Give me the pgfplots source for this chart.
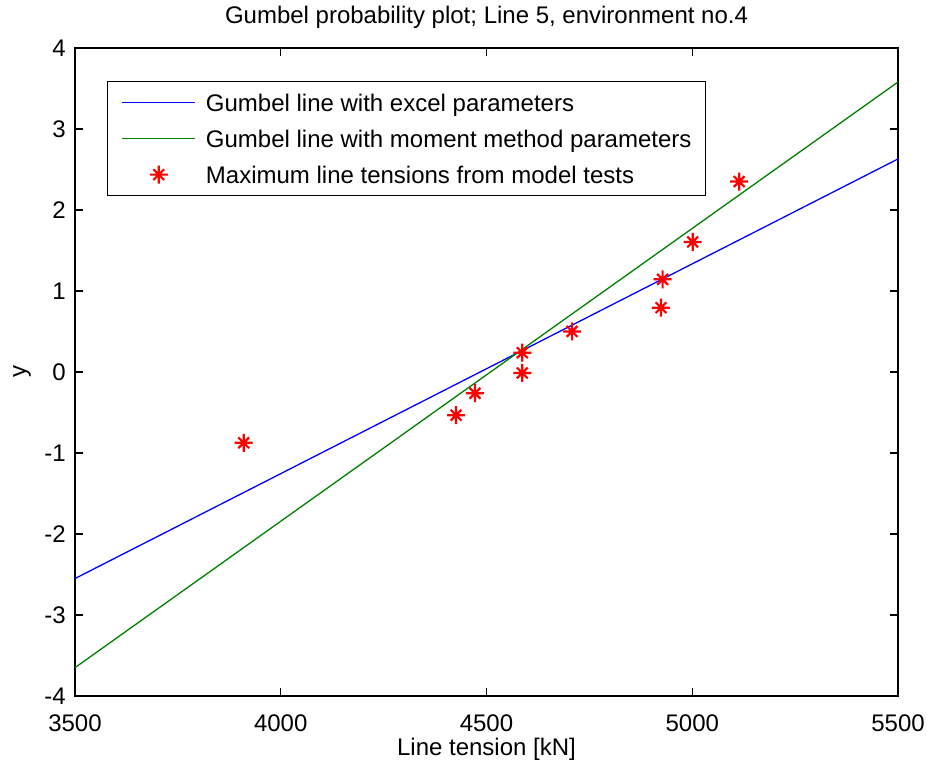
\documentclass[border=0pt]{standalone}
\usepackage{fontspec}
\setmainfont{Liberation Sans}
\usepackage{pgfplots}
\pgfplotsset{compat=1.18}
\newcommand{\F}{\fontsize{24}{28}\selectfont}
\definecolor{mgreen}{RGB}{0,128,0}
\definecolor{mblue}{RGB}{0,0,255}
\definecolor{mred}{RGB}{255,0,0}
\pgfdeclareplotmark{matstar}{%
  \pgfpathmoveto{\pgfpoint{-\pgfplotmarksize}{0pt}}\pgfpathlineto{\pgfpoint{\pgfplotmarksize}{0pt}}%
  \pgfpathmoveto{\pgfpoint{0pt}{-\pgfplotmarksize}}\pgfpathlineto{\pgfpoint{0pt}{\pgfplotmarksize}}%
  \pgfpathmoveto{\pgfpoint{-0.6\pgfplotmarksize}{-0.6\pgfplotmarksize}}\pgfpathlineto{\pgfpoint{0.6\pgfplotmarksize}{0.6\pgfplotmarksize}}%
  \pgfpathmoveto{\pgfpoint{-0.6\pgfplotmarksize}{0.6\pgfplotmarksize}}\pgfpathlineto{\pgfpoint{0.6\pgfplotmarksize}{-0.6\pgfplotmarksize}}%
  \pgfusepathqstroke}
\pgfplotsset{
  lineleg/.style={legend image code/.code={\draw[##1] (0pt,0pt) -- (73pt,0pt);}},
  markleg/.style={legend image code/.code={%
     \pgfpathrectangle{\pgfpoint{0pt}{-1pt}}{\pgfpoint{73pt}{2pt}}\pgfusepath{}%
     \begin{scope}[mred, line width=2.2pt]
       \pgftransformshift{\pgfpoint{36.5pt}{0pt}}\pgfsetplotmarksize{9pt}\pgfuseplotmark{matstar}
     \end{scope}}},
}
\begin{document}
\begin{tikzpicture}[font=\F]
\begin{axis}[
  name=ax,
  scale only axis, width=823pt, height=648pt,
  xmin=3500, xmax=5500, ymin=-4, ymax=4,
  xtick={3500,4000,4500,5000,5500}, xticklabels={3500,4000,4500,5000,5500},
  ytick={-4,-3,-2,-1,0,1,2,3,4}, yticklabels={-4,-3,-2,-1,0,1,2,3,4},
  tick pos=both, tick align=inside, major tick length=8pt,
  axis line style={line width=1.3pt, black},
  every tick/.style={black, line width=1.3pt},
  xticklabel style={font=\F, anchor=base, yshift=-35pt, inner sep=0pt},
  yticklabel style={font=\F, anchor=east, inner sep=0pt, xshift=-9pt},
  title={Gumbel probability plot; Line 5, environment no.4},
  title style={font=\F, at={(axis description cs:0.5,1)}, anchor=base, yshift=18pt, inner sep=0pt},
  xlabel={Line tension [kN]},
  xlabel style={font=\F, at={(axis description cs:0.5,0)}, anchor=base, yshift=-59pt, inner sep=0pt},
  ylabel={y},
  ylabel style={font=\F, at={(axis description cs:-0.0644,0.5)}, anchor=center, inner sep=0pt},
  legend cell align=left,
  legend style={font=\F, at={(axis description cs:0.0389,0.9491)}, anchor=north west,
    draw=black, line width=1.3pt, inner xsep=14pt, inner ysep=3pt, row sep=0pt,
    /tikz/column sep=10pt,
    nodes={inner sep=0pt, text height=27pt, text depth=9pt}},
]
\addplot[mblue, line width=1.3pt, lineleg]
  coordinates {(3500,-2.55) (5500,2.63)};
\addlegendentry{Gumbel line with excel parameters}
\addplot[mgreen, line width=1.3pt, lineleg]
  coordinates {(3500,-3.65) (5500,3.58)};
\addlegendentry{Gumbel line with moment method parameters}
\addplot[only marks, mred, mark=matstar, mark size=9pt, mark options={line width=2.2pt}, markleg]
  coordinates {
  (3910,-0.874) (4426,-0.533) (4472,-0.262) (4587,-0.012) (4587,0.238)
  (4708,0.501) (4924,0.794) (4928,1.144) (5001,1.606) (5114,2.351)};
\addlegendentry{Maximum line tensions from model tests}
\end{axis}
\pgfresetboundingbox
\path (ax.south west) +(-75pt,-71pt) (ax.north east) +(29pt,48pt);
\end{tikzpicture}
\end{document}
